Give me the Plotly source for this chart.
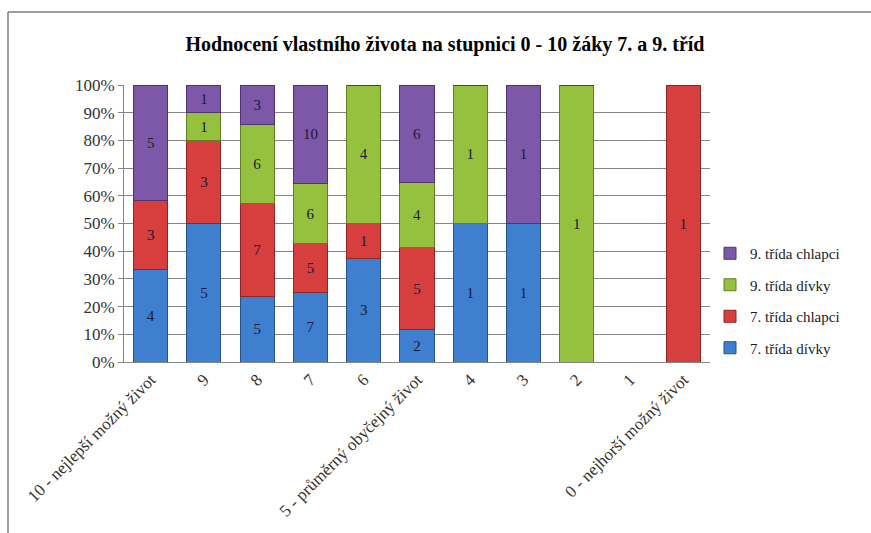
import plotly.graph_objects as go

categories = [
    "10 - nejlepší možný život", "9", "8", "7", "6",
    "5 - průměrný obyčejný život", "4", "3", "2", "1",
    "0 - nejhorší možný život",
]

divky_7 = [4, 5, 5, 7, 3, 2, 1, 1, 0, 0, 0]
chlapci_7 = [3, 3, 7, 5, 1, 5, 0, 0, 0, 0, 1]
divky_9 = [0, 1, 6, 6, 4, 4, 1, 0, 1, 0, 0]
chlapci_9 = [5, 1, 3, 10, 0, 6, 0, 1, 0, 0, 0]

y_ticks = list(range(0, 101, 10))

series = [
    ("7. třída dívky", divky_7, "#3f7fcf", "#27548d"),
    ("7. třída chlapci", chlapci_7, "#d63f3d", "#8e2623"),
    ("9. třída dívky", divky_9, "#95c13e", "#5f7f22"),
    ("9. třída chlapci", chlapci_9, "#7d58a9", "#4e3572"),
]

SERIF = "Times New Roman, serif"

fig = go.Figure()
n = len(series)
for i, (name, vals, color, edge) in enumerate(series):
    fig.add_trace(go.Bar(
        name=name,
        x=categories,
        y=vals,
        legendgroup=f"g{i}",
        legendrank=n - i,
        marker=dict(color=color, line=dict(color=edge, width=1)),
        text=[str(v) if v else "" for v in vals],
        textposition="inside",
        insidetextanchor="middle",
        textangle=0,
        textfont=dict(family=SERIF, size=15, color="#1a1a33"),
        hoverinfo="skip",
    ))

W, H = 871, 533
L, R, T, B = 124, 161, 85, 171
pw, ph = W - L - R, H - T - B


def px(xp):
    return (xp - L) / pw


def py(yp):
    return (H - B - yp) / ph


fig.update_layout(
    width=W,
    height=H,
    margin=dict(l=L, r=R, t=T, b=B, autoexpand=False),
    barmode="stack",
    barnorm="percent",
    bargap=0.36,
    paper_bgcolor="white",
    plot_bgcolor="white",
    title=dict(
        text="<b>Hodnocení vlastního života na stupnici 0 - 10 žáky 7. a 9. tříd</b>",
        x=445 / W,
        xanchor="center",
        y=1 - 44 / H,
        yanchor="middle",
        font=dict(family=SERIF, size=20, color="black"),
    ),
    legend=dict(
        traceorder="grouped",
        x=px(710),
        xanchor="left",
        y=py(237),
        yanchor="top",
        font=dict(family=SERIF, size=15, color="#222222"),
        tracegroupgap=9,
        itemwidth=30,
        bgcolor="rgba(0,0,0,0)",
    ),
    showlegend=True,
    xaxis=dict(
        tickangle=-45,
        tickfont=dict(family=SERIF, size=17, color="#333333"),
        showline=True,
        linecolor="#868686",
        linewidth=1,
        ticks="",
        showgrid=False,
    ),
    yaxis=dict(
        range=[0, 100],
        tickvals=y_ticks,
        ticktext=[f"{v}%" for v in y_ticks],
        tickfont=dict(family=SERIF, size=17, color="#333333"),
        showgrid=True,
        gridcolor="#868686",
        gridwidth=1,
        showline=True,
        linecolor="#868686",
        linewidth=1,
        ticks="outside",
        ticklen=5,
        tickcolor="#868686",
        zeroline=False,
    ),
    shapes=[
        dict(type="line", xref="paper", yref="paper",
             x0=px(8), y0=py(12), x1=px(W + 5), y1=py(12),
             line=dict(color="#7f7f7f", width=1.5)),
        dict(type="line", xref="paper", yref="paper",
             x0=px(8), y0=py(12), x1=px(8), y1=py(H + 5),
             line=dict(color="#7f7f7f", width=1.5)),
    ],
)

fig.write_html("out.html")
